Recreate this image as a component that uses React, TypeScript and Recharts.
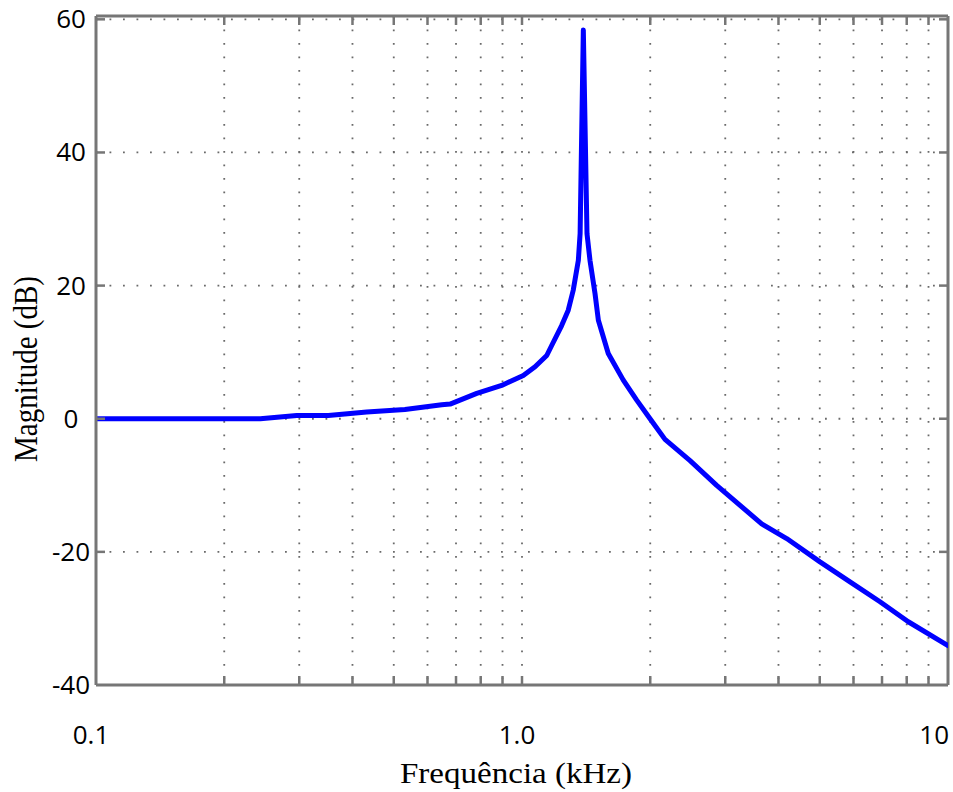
import React from 'react';
import { LineChart, Line, XAxis, YAxis, CartesianGrid, ReferenceLine } from 'recharts';

// Frequency (kHz) and magnitude (dB)
const FREQ_KHZ = [0.1, 0.243, 0.296, 0.351, 0.432, 0.531, 0.648, 0.678, 0.783, 0.896,
  1.007, 1.073, 1.143, 1.174, 1.239, 1.284, 1.319, 1.356, 1.369, 1.393,
  1.421, 1.444, 1.484, 1.511, 1.594, 1.729, 1.859, 1.998, 2.166, 2.48,
  2.864, 3.653, 4.182, 5.006, 5.888, 6.924, 8.068, 10.0];
const MAG_DB = [0, 0, 0.5, 0.5, 1.0, 1.4, 2.1, 2.2, 3.8, 5.0,
  6.5, 7.8, 9.5, 11.0, 14.0, 16.3, 19.3, 23.8, 27.8, 58.4,
  27.8, 23.8, 18.8, 14.8, 9.8, 5.8, 2.8, 0.0, -3.1, -6.3,
  -10.0, -15.8, -18.0, -21.5, -24.5, -27.5, -30.5, -34.1];

const X_TICKS = [0.1, 0.2, 0.3, 0.4, 0.5, 0.6, 0.7, 0.8, 0.9, 1, 2, 3, 4, 5, 6, 7, 8, 9, 10];
const X_LABEL_VALUES = [0.1, 1, 10];
const X_LABEL_TEXT = ['0.1', '1.0', '10'];
const Y_TICKS = [-40, -20, 0, 20, 40, 60];
const Y_LABEL_TEXT = ['-40', '-20', '0', '20', '40', '60'];

const X_TITLE = 'Frequência  (kHz)';
const Y_TITLE = 'Magnitude (dB)';

const data = FREQ_KHZ.map((f, i) => ({ f, db: MAG_DB[i] }));

const W = 953;
const H = 792;
const PLOT_LEFT = 96;
const PLOT_RIGHT = 948;
const PLOT_TOP = 16;
const PLOT_BOTTOM = 685;
const Y_AXIS_W = 60;
const X_AXIS_H = 60;

const FRAME = '#767676';
const GRID = '#6a6a6a';
const TICK_FONT = '"Open Sans", "Noto Sans", sans-serif';
const TITLE_FONT = '"Liberation Serif", "DejaVu Serif", serif';

const XTick = (props: any) => {
  const { x, payload } = props;
  const v = payload.value;
  const li = X_LABEL_VALUES.findIndex((lv) => Math.abs(lv - v) < 1e-9);
  const isEdge = Math.abs(v - 0.1) < 1e-9 || Math.abs(v - 10) < 1e-9;
  let label = null;
  if (li >= 0) {
    const last = li === X_LABEL_VALUES.length - 1;
    label = (
      <text x={last ? x + 1 : x - 5} y={PLOT_BOTTOM + 59} textAnchor={last ? 'end' : 'middle'}
        fontFamily={TICK_FONT} fontSize={26} fill="#000">
        {X_LABEL_TEXT[li]}
      </text>
    );
  }
  return (
    <g>
      {!isEdge && (
        <>
          <line x1={x} y1={PLOT_BOTTOM} x2={x} y2={PLOT_BOTTOM - 9} stroke={FRAME} strokeWidth={2.5} />
          <line x1={x} y1={PLOT_TOP} x2={x} y2={PLOT_TOP + 9} stroke={FRAME} strokeWidth={2.5} />
        </>
      )}
      {label}
    </g>
  );
};

const YTick = (props: any) => {
  const { y, payload } = props;
  const v = payload.value;
  const i = Y_TICKS.indexOf(v);
  return (
    <g>
      {v !== -40 && (
        <>
          <line x1={PLOT_LEFT} y1={y} x2={PLOT_LEFT + 9} y2={y} stroke={FRAME} strokeWidth={2.5} />
          <line x1={PLOT_RIGHT} y1={y} x2={PLOT_RIGHT - 9} y2={y} stroke={FRAME} strokeWidth={2.5} />
        </>
      )}
      <text x={PLOT_LEFT - 25} y={y + 9} textAnchor="middle" fontFamily={TICK_FONT} fontSize={26} fill="#000">
        {Y_LABEL_TEXT[i]}
      </text>
    </g>
  );
};

export default function App() {
  return (
    <div style={{ position: 'absolute', left: 0, top: 0, width: W, height: H, background: '#fff' }}>
      <LineChart
        width={W}
        height={H}
        data={data}
        margin={{ top: PLOT_TOP, right: W - PLOT_RIGHT, bottom: H - PLOT_BOTTOM - X_AXIS_H, left: PLOT_LEFT - Y_AXIS_W }}
      >
        <CartesianGrid stroke={GRID} strokeWidth={1.8} strokeDasharray="1.8 11.7" />
        <XAxis
          dataKey="f"
          type="number"
          scale="log"
          domain={[0.1, 10]}
          allowDataOverflow
          ticks={X_TICKS}
          interval={0}
          height={X_AXIS_H}
          tickSize={0}
          tickMargin={0}
          tickLine={false}
          axisLine={{ stroke: FRAME, strokeWidth: 3 }}
          tick={<XTick />}
        />
        <YAxis
          type="number"
          domain={[-40, 60.5]}
          allowDataOverflow
          ticks={Y_TICKS}
          interval={0}
          width={Y_AXIS_W}
          tickSize={0}
          tickMargin={0}
          tickLine={false}
          axisLine={{ stroke: FRAME, strokeWidth: 3 }}
          tick={<YTick />}
        />
        <ReferenceLine y={60.5} stroke={FRAME} strokeWidth={3} />
        <ReferenceLine x={10} stroke={FRAME} strokeWidth={3} />
        <Line
          type="linear"
          dataKey="db"
          stroke="#0000FF"
          strokeWidth={5}
          dot={false}
          activeDot={false}
          strokeLinejoin="round"
          strokeLinecap="round"
          isAnimationActive={false}
        />
        <text x={516} y={783} textAnchor="middle" fontFamily={TITLE_FONT} fontSize={29} fill="#000"
          textLength={232} lengthAdjust="spacingAndGlyphs">
          {X_TITLE}
        </text>
        <g transform="translate(37, 369) scale(1.12, 1) rotate(-90)">
          <text x={0} y={0} textAnchor="middle" fontFamily={TITLE_FONT} fontSize={30} fill="#000"
            textLength={186} lengthAdjust="spacingAndGlyphs">
            {Y_TITLE}
          </text>
        </g>
      </LineChart>
    </div>
  );
}
